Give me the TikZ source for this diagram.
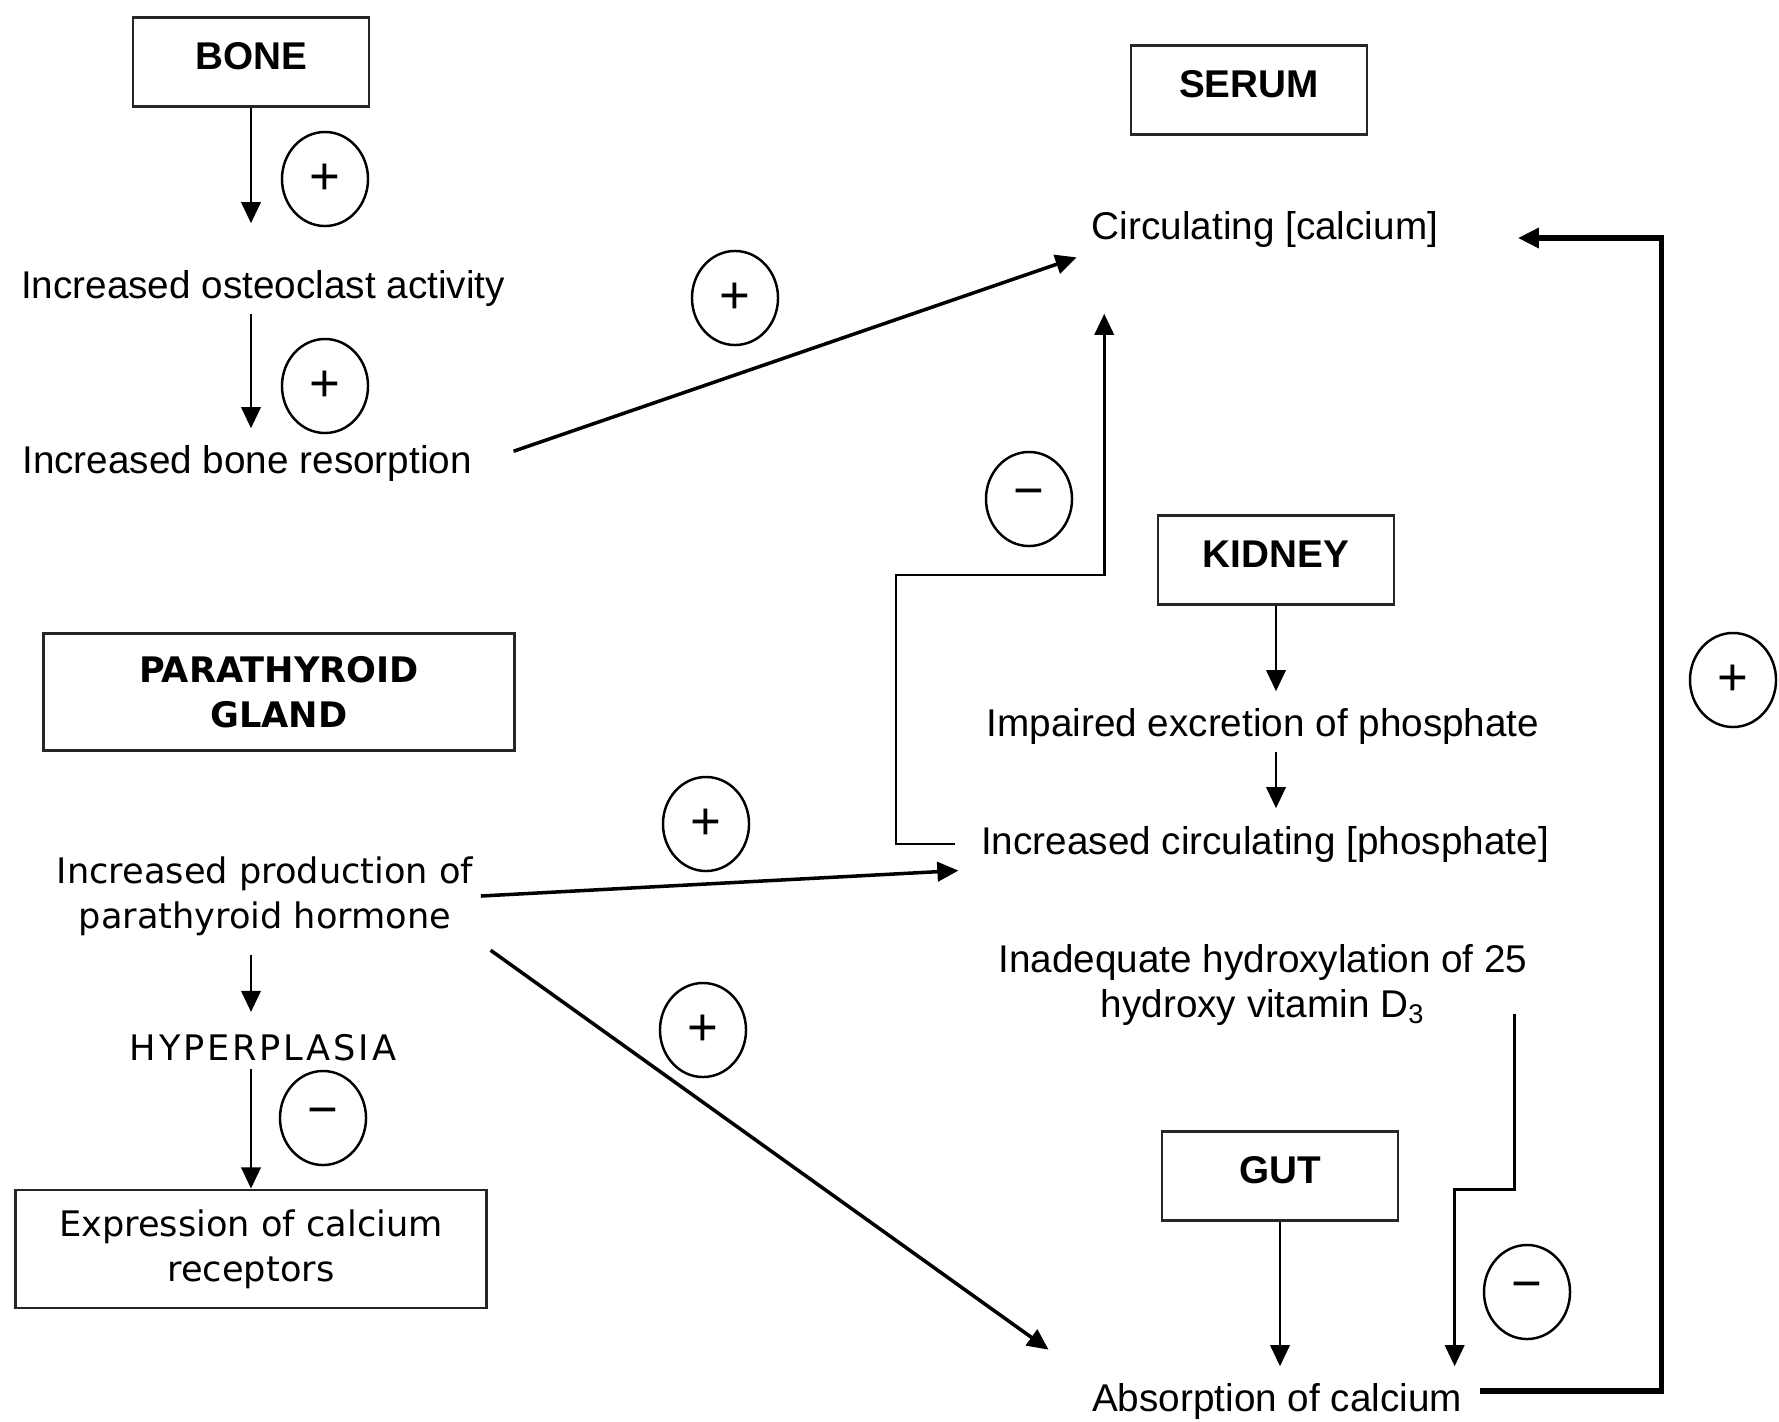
\documentclass[tikz,border=0pt]{standalone}
\usepackage{fontspec}
\setmainfont{Liberation Sans}
\newfontfamily\wideface{DejaVu Sans}
\newfontfamily\widecaps[LetterSpace=8]{DejaVu Sans}
\usetikzlibrary{positioning,shapes.geometric,arrows.meta}
\tikzset{
  organbox/.style={draw=black!85, line width=0.8pt, minimum width=2.36cm, inner sep=0.1cm,
    text height=0.415cm, text depth=0.275cm, font=\fontsize{11}{13}\selectfont\bfseries},
  bigbox/.style={draw=black!85, line width=0.8pt, minimum width=4.7cm, minimum height=1.17cm,
    align=center, font=\fontsize{10}{12.8}\selectfont\wideface},
  txt/.style={inner sep=2pt, align=center, font=\fontsize{11}{13}\selectfont},
  widetxt/.style={inner sep=2pt, align=center, font=\fontsize{10}{12.8}\selectfont\wideface},
  sgn/.style={draw, ellipse, minimum width=0.86cm, minimum height=0.94cm, inner sep=0pt,
    line width=0.7pt, font=\fontsize{15}{15}\selectfont},
  arr/.style={-{Triangle[length=6pt,width=5.5pt]}, line width=0.75pt},
}
\begin{document}
\begin{tikzpicture}[x=0.01cm, y=-0.01cm]
\useasboundingbox (0,0) rectangle (1779,1421);
% headings
\node[organbox] (bone) at (251,62) {BONE};
\node[organbox] (serum) at (1249,90) {SERUM};
\node[organbox] (kidney) at (1276,560) {KIDNEY};
\node[organbox] (gut) at (1280,1176) {GUT};
\node[bigbox, font=\fontsize{10}{12.8}\selectfont\wideface\bfseries] (ptgland) at (279,692) {PARATHYROID\\GLAND};

% bone side
\node[txt] (osteo) at (263,288) {Increased osteoclast activity};
\node[txt] (resorp) at (247,463) {Increased bone resorption};

% serum / kidney / gut
\node[txt] (calcium) at (1265,229) {Circulating [calcium]};
\node[txt] (impaired) at (1263,726) {Impaired excretion of phosphate};
\node[txt] (phosph) at (1265,844) {Increased circulating [phosphate]};
\node[txt] (vitd) at (1263,985) {Inadequate hydroxylation of 25\\hydroxy vitamin D\textsubscript{3}};
\node[txt] (absorp) at (1277,1401) {Absorption of calcium};

% parathyroid side
\node[widetxt] (pth) at (265,896) {Increased production of\\parathyroid hormone};
\node[widetxt, font=\fontsize{10}{12.8}\selectfont\widecaps] (hyper) at (263,1048) {HYPERPLASIA};
\node[bigbox, minimum height=1.18cm] (expr) at (251,1249) {Expression of calcium\\receptors};

% signs
\node[sgn] (sgbone) at (325,179) {+};
\node[sgn] (sgosteo) at (325,386) {+};
\node[sgn] (sgresorp) at (735,298) {+};
\node[sgn] (sgphos) at (1029,499) {−};
\node[sgn] (sgloop) at (1733,680) {+};
\node[sgn] (sgpthph) at (706,824) {+};
\node[sgn] (sgpthab) at (703,1030) {+};
\node[sgn] (sghyper) at (323,1118) {−};
\node[sgn] (sgvitd) at (1527,1292) {−};

\coordinate (fbbend) at (896,575);

% connectors
\draw[arr, shorten >=0.39cm] (bone.south) -- (bone.south |- osteo.north);
\draw[arr, shorten >=0.09cm] (osteo.south -| bone.south) -- (bone.south |- resorp.north);
\draw[arr, line width=1pt, shorten <=0.36cm, shorten >=0.08cm] (resorp.east) -- (calcium.south west);
\draw[arr, shorten <=0.18cm, shorten >=0.59cm] (phosph.west) -| (fbbend) -| ([xshift=0.2cm]calcium.south west);
\draw[arr, shorten >=0.09cm] (kidney.south) -- (kidney.south |- impaired.north);
\draw[arr, shorten >=0.1cm] (impaired.south -| kidney.south) -- (kidney.south |- phosph.north);
\draw[arr, line width=1pt, shorten >=0.15cm] (pth.east) -- (phosph.south west);
\draw[arr, line width=1pt, shorten <=0.12cm, shorten >=0.44cm] (pth.south east) -- (absorp.north west);
\draw[arr, shorten <=0.12cm, shorten >=0.15cm] (pth.south -| bone.south) -- (bone.south |- hyper.north);
\draw[arr] (hyper.south -| bone.south) -- (bone.south |- expr.north);
\draw[arr, shorten >=0.09cm] ([shift={(-21,-20)}]vitd.south east) -- ++(0,176) -| ([xshift=-0.15cm]absorp.north east);
\draw[arr, shorten >=0.09cm] (gut.south) -- (gut.south |- absorp.north);
\draw[arr, line width=1.5pt, shorten <=0.1cm, shorten >=0.72cm] ([yshift=0.1cm]absorp.east) -- ++(192,0) |- ([yshift=-0.09cm]calcium.east);
\end{tikzpicture}
\end{document}
